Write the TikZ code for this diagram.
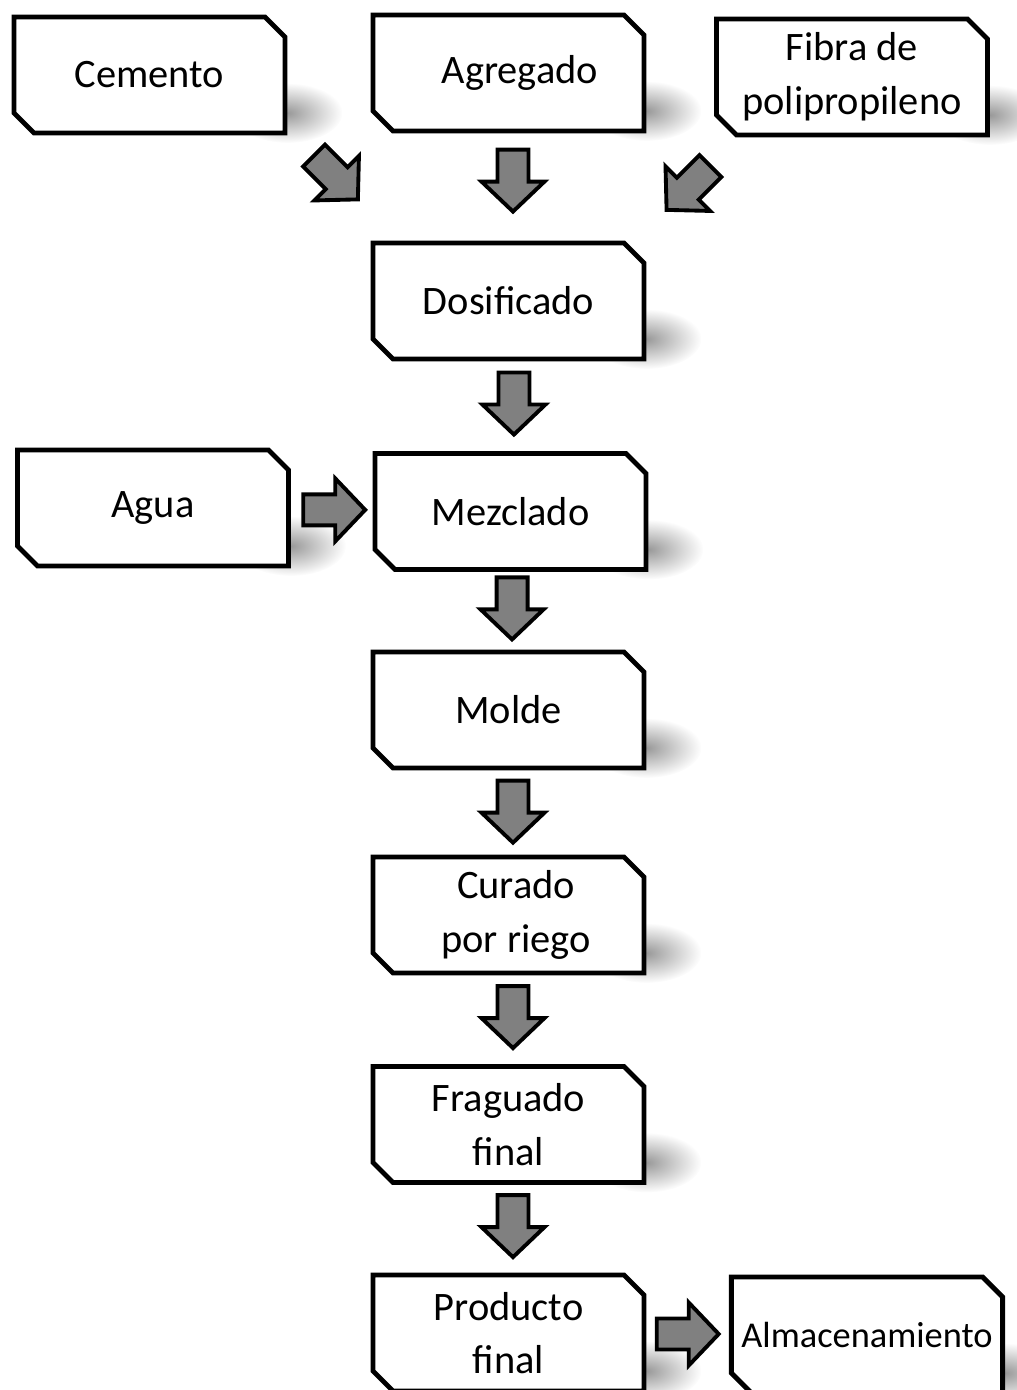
\documentclass[tikz,border=0pt]{standalone}
\usepackage{fontspec}
\setmainfont{Carlito}
\usetikzlibrary{calc}
\usetikzlibrary{shapes.misc}
\usetikzlibrary{fadings}
\usetikzlibrary{backgrounds}

\definecolor{arrowgray}{gray}{0.5}
\tikzfading[name=shadowfade, inner color=transparent!60, outer color=transparent!100]

\tikzset{
  stepbox/.style={chamfered rectangle, chamfered rectangle corners={north east,south west},
    chamfered rectangle sep=0.2cm, draw=black, fill=white, line width=2.8pt,
    minimum width=5.42cm, minimum height=2.32cm, inner sep=0pt, align=center,
    font=\fontsize{23}{30.5}\selectfont},
  blockarrow/.pic={
    \filldraw[fill=arrowgray, draw=black, line width=2.2pt, line join=miter]
      (-0.62,-0.31) -- (0.02,-0.31) -- (0.02,-0.63) -- (0.62,0) -- (0.02,0.63) -- (0.02,0.31) -- (-0.62,0.31) -- cycle;
  }
}
\newcommand{\boxshade}[1]{\fill[black, path fading=shadowfade] ($(#1.south east)+(0,0.45)$) ellipse (1.1cm and 0.6cm);}

\begin{document}
\begin{tikzpicture}
\useasboundingbox (0,0) rectangle (20.32,-27.8);

% materiales
\node[stepbox] (cemento) at (2.99,-1.50) {Cemento};
\node[stepbox] (agregado) at (10.17,-1.46) {\hspace*{0.45cm}Agregado};
\node[stepbox] (fibra) at (17.04,-1.54) {Fibra de\\polipropileno};

% proceso
\node[stepbox] (dosificado) at (10.17,-6.02) {Dosificado};
\node[stepbox] (agua) at (3.06,-10.16) {Agua};
\node[stepbox] (mezclado) at (10.21,-10.23) {Mezclado};
\node[stepbox] (molde) at (10.17,-14.20) {Molde};
\node[stepbox] (curado) at (10.17,-18.30) {\hspace*{0.3cm}Curado\\\hspace*{0.3cm}por riego};
\node[stepbox] (fraguado) at (10.17,-22.49) {Fraguado\\final};
\node[stepbox] (producto) at (10.17,-26.66) {Producto\\final};
\node[stepbox, font=\fontsize{20.7}{27}\selectfont] (almacen) at (17.34,-26.70) {Almacenamiento};

\begin{scope}[on background layer]
\foreach \n in {cemento,agregado,fibra,dosificado,agua,mezclado,molde,curado,fraguado,producto,almacen}
  \boxshade{\n};
\end{scope}

% flechas
\pic[rotate=-45] at ($(cemento.south east)+(0.97,-0.84)$) {blockarrow};
\pic[rotate=-90] at ($(agregado.south)!0.44!(dosificado.north)+(0.09,0)$) {blockarrow};
\pic[rotate=-135] at ($(fibra.south)+(-3.27,-1.01)$) {blockarrow};
\pic[rotate=-90] at ($(dosificado.south)!0.47!(mezclado.north)+(0.09,0)$) {blockarrow};
\pic at ($(agua.east)!0.53!(mezclado.west)$) {blockarrow};
\pic[rotate=-90] at ($(mezclado.south)!0.47!(molde.north)+(0.05,0)$) {blockarrow};
\pic[rotate=-90] at ($(molde.south)!0.49!(curado.north)+(0.09,0)$) {blockarrow};
\pic[rotate=-90] at ($(curado.south)!0.47!(fraguado.north)+(0.09,0)$) {blockarrow};
\pic[rotate=-90] at ($(fraguado.south)!0.47!(producto.north)+(0.09,0)$) {blockarrow};
\pic at ($(producto.east)!0.5!(almacen.west)$) {blockarrow};
\end{tikzpicture}
\end{document}
